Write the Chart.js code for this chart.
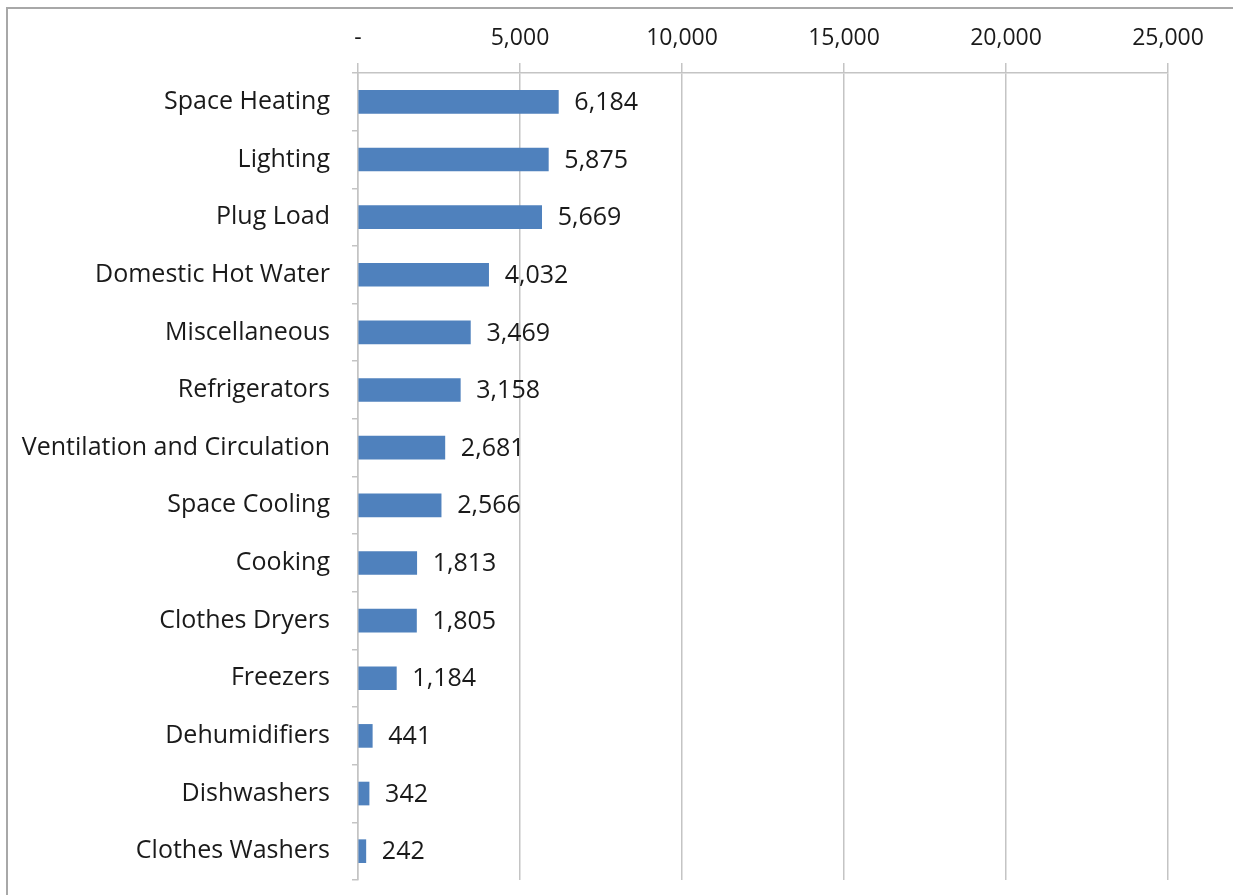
<!DOCTYPE html>
<html>
<head>
<meta charset="utf-8">
<script src="https://cdn.jsdelivr.net/npm/chart.js@4/dist/chart.umd.min.js"></script>
<style>
  html, body { margin: 0; padding: 0; background: #fff; }
  #wrap { width: 1233px; height: 895px; position: relative; }
</style>
</head>
<body>
<div id="wrap"><canvas id="c"></canvas></div>
<script>
// End-use categories, largest first
const categories = [
  'Space Heating', 'Lighting', 'Plug Load', 'Domestic Hot Water', 'Miscellaneous',
  'Refrigerators', 'Ventilation and Circulation', 'Space Cooling', 'Cooking',
  'Clothes Dryers', 'Freezers', 'Dehumidifiers', 'Dishwashers', 'Clothes Washers'
];
// Consumption per end use
const usage = [6184, 5875, 5669, 4032, 3469, 3158, 2681, 2566, 1813, 1805, 1184, 441, 342, 242];
// Value axis ticks
const axisTicks = [0, 5000, 10000, 15000, 20000, 25000];

const FONT = '"Open Sans", Lato, sans-serif';
const TEXT = '#1a1a1a';
const GRID = '#c4c4c4';

const fmt = v => v === 0 ? '-' : v.toLocaleString('en-US');

// Frame around the whole figure
const framePlugin = {
  id: 'frame',
  afterDraw(chart) {
    const ctx = chart.ctx;
    ctx.save();
    ctx.strokeStyle = '#a8a8a8';
    ctx.lineWidth = 2;
    ctx.beginPath();
    ctx.moveTo(7, 900);
    ctx.lineTo(7, 8);
    ctx.lineTo(1240, 8);
    ctx.stroke();
    ctx.restore();
  }
};

// Value labels to the right of each bar
const valueLabels = {
  id: 'valueLabels',
  afterDatasetsDraw(chart) {
    const ctx = chart.ctx;
    const meta = chart.getDatasetMeta(0);
    const data = chart.data.datasets[0].data;
    ctx.save();
    ctx.font = '25px ' + FONT;
    ctx.fillStyle = TEXT;
    ctx.textAlign = 'left';
    ctx.textBaseline = 'middle';
    meta.data.forEach((bar, i) => {
      ctx.fillText(fmt(data[i]), bar.x + 16, bar.y + 1);
    });
    ctx.restore();
  }
};

new Chart(document.getElementById('c'), {
  type: 'bar',
  data: {
    labels: categories,
    datasets: [{
      data: usage,
      backgroundColor: '#4f81bd',
      borderWidth: 0,
      barThickness: 23
    }]
  },
  options: {
    indexAxis: 'y',
    responsive: true,
    maintainAspectRatio: false,
    animation: false,
    layout: { padding: { top: 0, left: 0, right: 65, bottom: 15 } },
    plugins: { legend: { display: false }, tooltip: { enabled: false } },
    scales: {
      x: {
        position: 'top',
        min: 0,
        max: 25000,
        afterBuildTicks(scale) { scale.ticks = axisTicks.map(v => ({ value: v })); },
        afterFit(scale) { scale.height = 73; scale.paddingLeft = 0; scale.paddingRight = 0; },
        grid: { color: GRID, lineWidth: 1.5, tickLength: 10, drawTicks: true },
        border: { display: true, color: GRID, width: 1.5 },
        ticks: {
          padding: 11,
          color: TEXT,
          font: { family: FONT, size: 23 },
          callback: v => fmt(v)
        }
      },
      y: {
        afterFit(scale) { scale.width = 358; scale.paddingTop = 0; scale.paddingBottom = 0; },
        grid: { display: true, drawOnChartArea: false, drawTicks: true, tickLength: 6, color: GRID, lineWidth: 1.5, offset: true },
        border: { display: true, color: GRID, width: 1.5 },
        ticks: {
          padding: 22,
          color: TEXT,
          font: { family: FONT, size: 25 }
        }
      }
    }
  },
  plugins: [framePlugin, valueLabels]
});
</script>
</body>
</html>
